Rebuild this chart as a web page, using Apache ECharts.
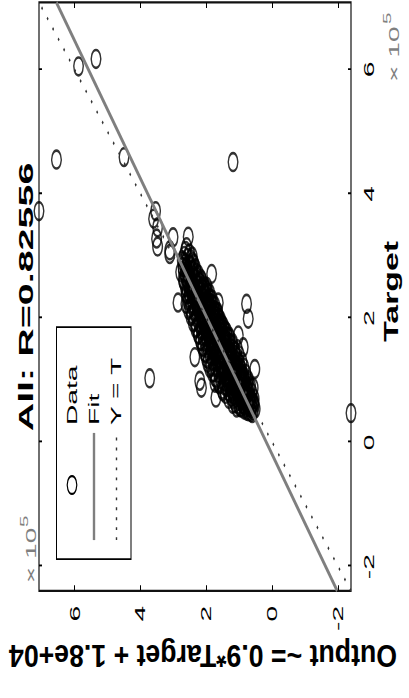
<!DOCTYPE html>
<html>
<head>
<meta charset="utf-8">
<script src="https://cdn.jsdelivr.net/npm/echarts@6/dist/echarts.min.js"></script>
<style>
  html, body { margin: 0; padding: 0; background: #fff; }
  #page { position: relative; width: 409px; height: 698px; overflow: hidden; background: #fff; }
  /* the regression plot is laid out landscape, then turned a quarter-turn and widened */
  #chart { position: absolute; left: 0; top: 0; height: 409px; transform-origin: 0 0; }
</style>
</head>
<body>
<div id="page"><div id="chart"></div></div>
<script>
// Regression of network output against target, all samples (values in units of 1e5)
const target = [
  0.47,0.52,0.50,0.55,0.53,0.49,0.56,
  0.58,0.60,0.62,0.57,0.64,0.61,0.63,0.59,
  0.66,0.68,0.70,0.72,0.69,0.74,0.73,0.67,
  0.76,0.78,0.80,0.82,0.79,0.84,0.81,0.77,
  0.86,0.88,0.90,0.92,0.89,0.94,0.91,0.87,
  0.96,0.98,1.00,1.02,0.99,1.04,1.01,0.97,
  1.06,1.08,1.10,1.12,1.09,1.14,1.11,1.07,
  1.16,1.18,1.20,1.22,1.19,1.24,1.21,1.17,
  1.26,1.28,1.30,1.32,1.29,1.34,1.31,1.27,
  1.36,1.38,1.40,1.42,1.39,1.44,1.41,1.37,
  1.46,1.48,1.50,1.52,1.49,1.54,1.51,1.47,
  1.56,1.58,1.60,1.62,1.59,1.64,1.61,1.57,
  1.66,1.68,1.70,1.72,1.69,1.74,1.71,1.67,
  1.76,1.78,1.80,1.82,1.79,1.84,1.81,1.77,
  1.86,1.88,1.90,1.92,1.89,1.94,1.91,1.87,
  1.96,1.98,2.00,2.02,1.99,2.04,2.01,1.97,
  2.06,2.08,2.10,2.12,2.09,2.14,2.11,2.07,
  2.16,2.18,2.20,2.22,2.19,2.24,2.21,
  2.26,2.28,2.30,2.32,2.29,2.34,2.31,
  2.36,2.38,2.40,2.42,2.39,2.44,2.41,
  2.46,2.48,2.50,2.52,2.49,2.54,
  2.56,2.58,2.60,2.62,2.59,2.64,
  2.66,2.68,2.70,2.72,2.74,
  2.76,2.78,2.80,2.82,2.84,
  2.86,2.88,2.90,2.93,
  2.97,3.00,3.04,3.08,
  0.51,0.54,0.57,0.59,0.56,
  0.61,0.63,0.65,0.67,0.64,0.69,
  0.71,0.73,0.75,0.77,0.79,0.72,
  0.81,0.83,0.85,0.87,0.89,0.82,
  0.91,0.93,0.95,0.97,0.99,0.93,
  1.01,1.03,1.05,1.07,1.09,1.03,
  1.11,1.13,1.15,1.17,1.19,1.13,
  1.21,1.23,1.25,1.27,1.29,1.23,
  1.31,1.33,1.35,1.37,1.39,1.33,
  1.41,1.43,1.45,1.47,1.49,1.43,
  1.51,1.53,1.55,1.57,1.59,1.53,
  1.61,1.63,1.65,1.67,1.69,1.63,
  1.71,1.73,1.75,1.77,1.79,1.73,
  1.81,1.83,1.85,1.87,1.89,1.83,
  1.91,1.93,1.95,1.97,1.99,1.93,
  2.01,2.03,2.05,2.07,2.09,2.03,
  2.11,2.13,2.15,2.17,2.19,2.13,
  2.21,2.23,2.25,2.27,2.29,2.23,
  2.31,2.33,2.35,2.37,2.39,
  2.41,2.43,2.45,2.47,2.49,
  2.51,2.53,2.55,2.57,2.59,
  2.61,2.63,2.65,2.67,
  2.71,2.73,2.75,2.79,
  2.83,2.87,2.91,2.95,
  0.62,0.70,0.78,0.85,0.95,1.05,1.12,1.20,1.28,1.36,1.45,1.55,
  1.64,1.74,1.85,1.95,2.06,2.16,2.28,2.38,2.50,2.62,2.74,
  0.66,0.74,0.83,0.92,1.00,1.08,1.16,1.25,1.34,1.42,1.50,1.58,1.66,
  1.74,1.83,1.92,2.00,2.08,2.17,2.26,2.35,2.44,2.53,2.62,2.70,2.80,
  0.70,0.80,0.90,1.00,1.10,1.20,1.30,1.40,1.50,1.60,
  1.70,1.80,1.90,2.00,2.10,2.20,2.30,2.40,2.50,
  0.76,0.96,1.14,1.33,1.52,1.70,1.88,2.05,2.22,2.40,
  0.86,1.06,1.26,1.46,1.66,1.86,2.06,2.26,2.46,
  6.05,6.17,4.55,4.59,4.51,3.72,0.47,
  3.72,3.60,3.46,3.28,3.15,3.30,3.31,3.09,3.14,2.99,3.03,
  1.03,2.25,2.23,1.99,1.37,0.99,0.88,0.96,0.72,1.18,0.88,0.56,2.71,2.25,1.72,1.53
];
const output = [
  0.61,0.58,0.72,0.66,0.86,0.65,0.94,
  0.62,0.76,0.90,0.70,0.67,1.03,0.57,0.83,
  0.79,0.95,0.64,1.11,0.84,0.73,1.24,0.61,
  0.87,1.02,0.70,1.19,0.93,0.81,1.33,1.07,
  0.96,1.13,0.77,1.27,1.03,0.88,1.44,0.69,
  1.05,1.21,0.83,1.37,0.95,1.12,1.56,0.75,
  1.10,1.29,0.91,1.46,1.02,1.21,1.63,0.86,
  1.18,1.36,0.98,1.53,1.10,1.29,1.73,0.93,
  1.25,1.43,1.05,1.61,1.18,1.37,1.81,0.99,
  1.33,1.51,1.12,1.69,1.25,1.42,1.89,1.06,
  1.40,1.59,1.21,1.76,1.33,1.51,1.96,1.13,
  1.49,1.67,1.29,1.83,1.41,1.58,2.03,1.21,
  1.57,1.73,1.36,1.91,1.48,1.66,2.11,1.29,
  1.64,1.81,1.45,1.99,1.57,1.73,2.16,1.38,
  1.73,1.89,1.55,2.06,1.64,1.81,2.23,1.48,
  1.80,1.96,1.62,2.13,1.72,1.89,2.31,1.57,
  1.88,2.03,1.70,2.21,1.80,1.97,2.37,1.65,
  1.95,2.11,1.78,2.29,1.88,2.05,2.46,
  2.03,2.19,1.86,2.36,1.97,2.13,2.53,
  2.11,2.27,1.95,2.43,2.04,2.21,2.61,
  2.18,2.35,2.06,2.51,2.12,2.29,
  2.27,2.43,2.14,2.59,2.21,2.37,
  2.35,2.51,2.24,2.65,2.45,
  2.42,2.59,2.33,2.71,2.51,
  2.50,2.65,2.41,2.73,
  2.57,2.67,2.51,2.63,
  0.78,0.52,0.99,0.55,0.80,
  0.88,1.12,0.74,1.02,0.56,1.18,
  0.92,0.68,1.16,0.78,1.28,0.98,
  1.05,0.75,1.24,0.84,1.38,1.50,
  1.10,0.80,1.32,0.90,1.46,1.60,
  1.18,0.88,1.40,0.98,1.55,1.70,
  1.26,0.96,1.48,1.06,1.64,1.78,
  1.34,1.04,1.56,1.14,1.71,1.86,
  1.42,1.12,1.64,1.22,1.79,1.94,
  1.50,1.20,1.72,1.30,1.86,2.02,
  1.58,1.28,1.80,1.38,1.93,2.10,
  1.66,1.36,1.88,1.46,2.01,2.17,
  1.74,1.44,1.96,1.54,2.08,2.24,
  1.82,1.52,2.04,1.62,2.15,2.32,
  1.90,1.60,2.11,1.70,2.22,2.40,
  1.97,1.68,2.18,1.78,2.28,2.47,
  2.04,1.76,2.25,1.86,2.36,2.54,
  2.12,1.84,2.32,1.94,2.44,2.62,
  2.20,1.92,2.40,2.02,2.52,
  2.28,2.00,2.47,2.10,2.60,
  2.36,2.08,2.55,2.18,2.68,
  2.44,2.16,2.62,2.28,
  2.52,2.30,2.70,2.40,
  2.60,2.38,2.68,2.48,
  1.20,1.32,1.42,1.52,1.64,1.74,1.82,1.90,1.96,2.00,2.06,2.12,
  2.18,2.24,2.30,2.36,2.44,2.50,2.56,2.60,2.64,2.70,2.78,
  0.88,0.96,1.10,1.18,1.28,1.36,1.44,1.50,1.58,1.60,1.68,1.74,1.80,
  1.86,1.92,1.98,2.05,2.12,2.18,2.26,2.33,2.40,2.45,2.50,2.56,2.64,
  0.55,0.62,0.66,0.72,0.80,0.86,0.92,1.00,1.06,1.20,
  1.30,1.42,1.52,1.62,1.66,1.74,1.82,1.90,1.98,
  1.15,1.40,1.56,1.70,1.86,2.00,2.14,2.30,2.40,2.52,
  0.75,0.95,1.13,1.28,1.42,1.58,1.74,1.92,2.02,
  5.88,5.35,6.55,4.50,1.19,7.08,-2.39,
  3.54,3.60,3.48,3.51,3.48,3.01,2.55,3.11,2.60,2.43,3.11,
  3.72,2.86,0.78,0.73,2.35,2.20,2.15,1.74,1.71,0.53,0.58,1.08,1.84,1.64,1.03,0.88
];
const tickValues = [-2, 0, 2, 4, 6];
const fitSlope = 0.9;
const fitIntercept = 0.18;          // 1.8e+04 in units of 1e5
const rText = '0.82556';
const seriesNames = ['Data', 'Fit', 'Y = T'];

// landscape layout width before the horizontal stretch
const STRETCH = 1.88;
const W = 698 / STRETCH;
const chartEl = document.getElementById('chart');
chartEl.style.width = W + 'px';
chartEl.style.transform = 'translateY(698px) rotate(-90deg) scaleX(' + STRETCH + ')';

// both axes share the data limits, as in the regression plot
const allVals = target.concat(output);
const lo = Math.min.apply(null, allVals);
const hi = Math.max.apply(null, allVals);

const points = target.map((t, i) => [t, output[i]]);
const fitLine = [[lo, fitSlope * lo + fitIntercept], [hi, fitSlope * hi + fitIntercept]];
const identityLine = [[lo, lo], [hi, hi]];

const FONT = "'Liberation Sans', Arial, Helvetica, sans-serif";
const GREY = '#7f7f7f';

function valueAxis(pos, withLabels, margin) {
  return {
    type: 'value', position: pos, min: lo, max: hi,
    axisLine: { show: false, onZero: false },
    splitLine: { show: false },
    axisTick: { show: true, inside: true, length: 3, customValues: tickValues,
                lineStyle: { color: '#000', width: 1 } },
    axisLabel: { show: withLabels, customValues: tickValues, fontSize: 15,
                 color: '#000', fontFamily: FONT, margin: margin || 8 }
  };
}

function txt(x, y, text, size, opts) {
  opts = opts || {};
  return {
    type: 'text', x: x, y: y, z: 100, rotation: opts.rotation || 0,
    scaleX: opts.scaleX || 1, scaleY: opts.scaleY || 1, silent: true,
    style: {
      text: text, fill: opts.color || '#000',
      font: (opts.bold ? 'bold ' : '') + size + 'px ' + FONT,
      align: opts.align || 'left', verticalAlign: 'middle',
      textAlign: opts.align || 'left', textVerticalAlign: 'middle'
    }
  };
}

const chart = echarts.init(chartEl, null, { renderer: 'svg' });
chart.setOption({
  animation: false,
  backgroundColor: '#fff',
  textStyle: { fontFamily: FONT },
  grid: { left: 57, right: 1, top: 39, bottom: 58, show: true,
          borderColor: '#111', borderWidth: 1.2, backgroundColor: 'transparent' },
  xAxis: [ valueAxis('bottom', true, 11), valueAxis('top', false) ],
  yAxis: [ valueAxis('left', true, 8), valueAxis('right', false) ],
  series: [
    {
      name: seriesNames[0], type: 'scatter', data: points, clip: false,
      symbol: 'circle', symbolSize: 9.5,
      itemStyle: { color: 'rgba(0,0,0,0)', borderColor: '#000', borderWidth: 1.4 },
      emphasis: { disabled: true }, silent: true
    },
    {
      name: seriesNames[1], type: 'line', data: fitLine, showSymbol: false, symbol: 'none',
      lineStyle: { color: GREY, width: 2.4 }, silent: true
    },
    {
      name: seriesNames[2], type: 'line', data: identityLine, showSymbol: false, symbol: 'none',
      lineStyle: { color: '#333', width: 1.4, type: [1.5, 6.3] }, silent: true
    }
  ],
  graphic: [
    txt(213.3, 25.5, 'All: R=' + rText, 21, { bold: true, align: 'center' }),
    txt(216.3, 391, 'Target', 20, { bold: true, align: 'center', scaleX: 0.9 }),
    txt(22, 203, 'Output ~= 0.9*Target + 1.8e+04', 17,
        { bold: true, align: 'center', rotation: Math.PI / 2, scaleX: 1.57 }),
    // axis exponent labels
    txt(61, 31, '\u00d7 10', 15, { color: GREY }),
    txt(91, 24.5, '5', 11, { color: GREY }),
    txt(327.7, 394, '\u00d7 10', 15, { color: GREY }),
    txt(358.5, 387.5, '5', 11, { color: GREY }),
    // legend box
    {
      type: 'group', silent: true, z: 100,
      children: [
        { type: 'rect', z: 100, shape: { x: 73.9, y: 56.5, width: 123.4, height: 74.5 },
          style: { fill: '#fff', stroke: '#000', lineWidth: 1 } },
        { type: 'circle', z: 101, shape: { cx: 113.3, cy: 72, r: 4.75 },
          style: { fill: 'none', stroke: '#000', lineWidth: 1.2 } },
        { type: 'line', z: 101, shape: { x1: 84, y1: 94, x2: 141, y2: 94 },
          style: { stroke: GREY, lineWidth: 2.4 } },
        { type: 'line', z: 101, shape: { x1: 84, y1: 116.5, x2: 141, y2: 116.5 },
          style: { stroke: '#333', lineWidth: 1.4, lineDash: [1.5, 3.8] } },
        txt(145.2, 72.5, seriesNames[0], 15),
        txt(145.2, 94, seriesNames[1], 15),
        txt(145.2, 116, seriesNames[2], 15)
      ]
    }
  ]
});
</script>
</body>
</html>
